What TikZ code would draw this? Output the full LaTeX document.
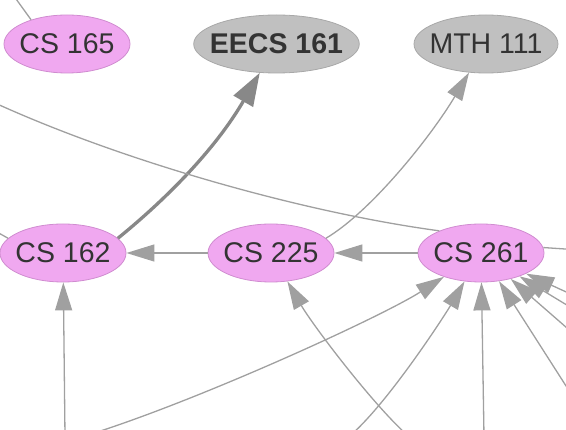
\documentclass[tikz,border=0pt]{standalone}
\usepackage{fontspec}
\setmainfont{Liberation Sans}
\usetikzlibrary{shapes.geometric,arrows.meta}
\definecolor{coursefill}{HTML}{F0A8F0}
\definecolor{coursedraw}{HTML}{D08CD0}
\definecolor{extfill}{HTML}{C0C0C0}
\definecolor{extdraw}{HTML}{A8A8A8}
\definecolor{edge}{HTML}{A0A0A0}
\definecolor{edgedark}{HTML}{888888}
\definecolor{txt}{HTML}{333333}

\begin{document}
\begin{tikzpicture}[x=1pt,y=-1pt,
	course/.style={ellipse,draw=coursedraw,fill=coursefill,text=txt,line width=.8pt,
		minimum width=126pt,minimum height=58pt,inner xsep=-8pt,inner ysep=0pt,font=\fontsize{28.5}{34}\selectfont},
	extcourse/.style={course,draw=extdraw,fill=extfill},
	link/.style={draw=edge,line width=1.3pt},
	prereq/.style={link,-{Triangle[length=28pt,width=17pt]}},
	strong/.style={draw=edgedark,line width=3.3pt,-{Triangle[length=33pt,width=22pt]}}]
	\useasboundingbox (0,0) rectangle (566,430);

	% top row
	\node[course] (cs165) at (67,44) {CS 165};
	\node[extcourse,minimum width=165pt,font=\fontsize{28.5}{34}\selectfont\bfseries] (eecs161) at (276.5,44) {EECS 161};
	\node[extcourse,minimum width=144pt] (mth111) at (486,44) {MTH 111};

	% middle row
	\node[course] (cs162) at (63,253) {CS 162};
	\node[course] (cs225) at (271,253) {CS 225};
	\node[course] (cs261) at (481,253) {CS 261};

	% ends outside the picture
	\coordinate (outa) at (-5,103);
	\coordinate (outb) at (580,250);
	\coordinate (outc) at (-12,227);
	\coordinate (outd) at (11,-8);
	\coordinate (ina) at (65,436);
	\coordinate (inb) at (88,435);
	\coordinate (inc) at (406,434);
	\coordinate (ind) at (352,434);
	\coordinate (ine) at (484,436);
	\coordinate (inf) at (575,400);
	\coordinate (ing) at (575,335);
	\coordinate (inh) at (575,310);
	\coordinate (ini) at (575,296);

	% edges up
	\draw[strong] (cs162.15) .. controls (165,200) and (215,150) .. (eecs161);
	\draw[prereq] (cs225.15) .. controls (372,211) and (432,135) .. (mth111);

	% along the row
	\draw[prereq] (cs225) -- (cs162);
	\draw[prereq] (cs261) -- (cs225);

	% leaving
	\draw[link] (cs261.152) .. controls (300,212) and (120,160) .. (outa);
	\draw[link] (cs261.5) -- (outb);
	\draw[link] (cs162.165) -- (outc);
	\draw[link] (cs165.146) -- (outd);

	% coming in from below
	\draw[prereq] (ina) -- (cs162);
	\draw[prereq] (inb) .. controls (200,400) and (383,316) .. (cs261);
	\draw[prereq] (inc) .. controls (370,401) and (312,324) .. (cs225);
	\draw[prereq] (ind) .. controls (390,400) and (445,315) .. (cs261);
	\draw[prereq] (ine) -- (cs261);
	\draw[prereq] (inf) -- (cs261);
	\draw[prereq] (ing) -- (cs261);
	\draw[prereq] (inh) -- (cs261);
	\draw[prereq] (ini) -- (cs261);
\end{tikzpicture}
\end{document}
